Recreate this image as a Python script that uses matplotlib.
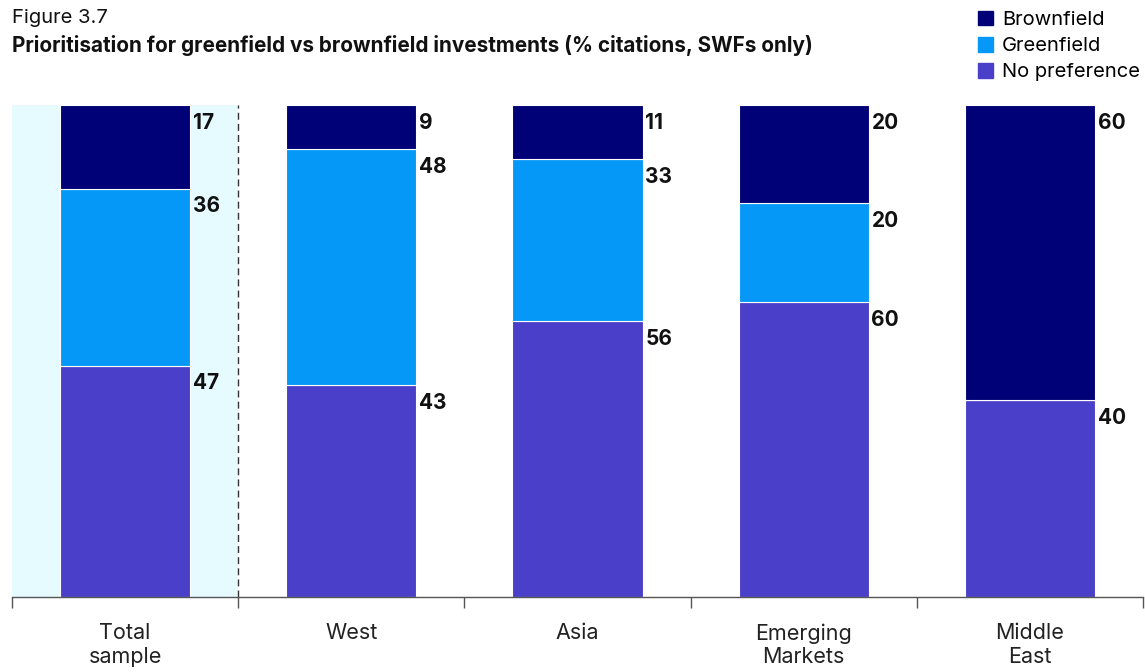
import matplotlib.pyplot as plt
from matplotlib.patches import Patch

plt.rcParams['font.family'] = ['Inter', 'DejaVu Sans']

# data
regions = ['Total\nsample', 'West', 'Asia', 'Emerging\nMarkets', 'Middle\nEast']
no_pref = [47, 43, 56, 60, 40]
greenfield = [36, 48, 33, 20, 0]
brownfield = [17, 9, 11, 20, 60]

c_brown = '#000077'
c_green = '#0598f7'
c_nopref = '#4a3fc9'

fig = plt.figure(figsize=(11.45, 6.72), dpi=100)
ax = fig.add_axes([12/1145, 1-597/672, 1131/1145, 492/672])

x = [i + 0.5 for i in range(len(regions))]
w = 0.575

# highlight for total sample
ax.axvspan(0, 1, color='#e6fbff', zorder=0, lw=0)
ax.axvline(1, color='#333333', ls=(0, (5, 3)), lw=1, zorder=1)

ax.bar(x, no_pref, w, color=c_nopref, edgecolor='white', lw=0.8, zorder=2)
ax.bar(x, greenfield, w, bottom=no_pref, color=c_green, edgecolor='white', lw=0.8, zorder=2)
bot2 = [a + b for a, b in zip(no_pref, greenfield)]
ax.bar(x, brownfield, w, bottom=bot2, color=c_brown, edgecolor='white', lw=0.8, zorder=2)

# value labels, next to top of each segment
for i in range(len(regions)):
    tops = [(100, brownfield[i]), (bot2[i], greenfield[i]), (no_pref[i], no_pref[i])]
    for top, v in tops:
        if v == 0:
            continue
        ax.text(x[i] + w/2 + 0.012, top - 3.6, str(v), ha='left', va='center',
                fontsize=15, fontweight='bold', color='#111111')

ax.set_xlim(0, 5)
ax.set_ylim(0, 100)
ax.set_yticks([])
ax.set_xticks(range(6))
ax.set_xticklabels([])
ax.set_xticks(x, minor=True)
ax.set_xticklabels(regions, minor=True, fontsize=15.5, color='#222222', linespacing=1.22)
ax.tick_params(axis='x', which='major', length=8, width=1, color='#555555', direction='out')
ax.tick_params(axis='x', which='minor', length=0, pad=19)
for s in ['top', 'right', 'left']:
    ax.spines[s].set_visible(False)
ax.spines['bottom'].set_color('#555555')
ax.spines['bottom'].set_linewidth(1)

fig.text(12/1145, 1-18/672, 'Figure 3.7', fontsize=14.5, va='center', ha='left', color='#111111')
fig.text(12/1145, 1-45/672, 'Prioritisation for greenfield vs brownfield investments (% citations, SWFs only)',
         fontsize=14.9, fontweight='bold', va='center', ha='left', color='#111111')

handles = [Patch(color=c_brown, label='Brownfield'),
           Patch(color=c_green, label='Greenfield'),
           Patch(color=c_nopref, label='No preference')]
fig.legend(handles=handles, loc='upper right', bbox_to_anchor=(1.006, 1.002), frameon=False,
           fontsize=14.5, handlelength=0.75, handleheight=0.75, handletextpad=0.45,
           labelspacing=0.38, borderaxespad=0.2)

fig.savefig('out.png', dpi=100)
